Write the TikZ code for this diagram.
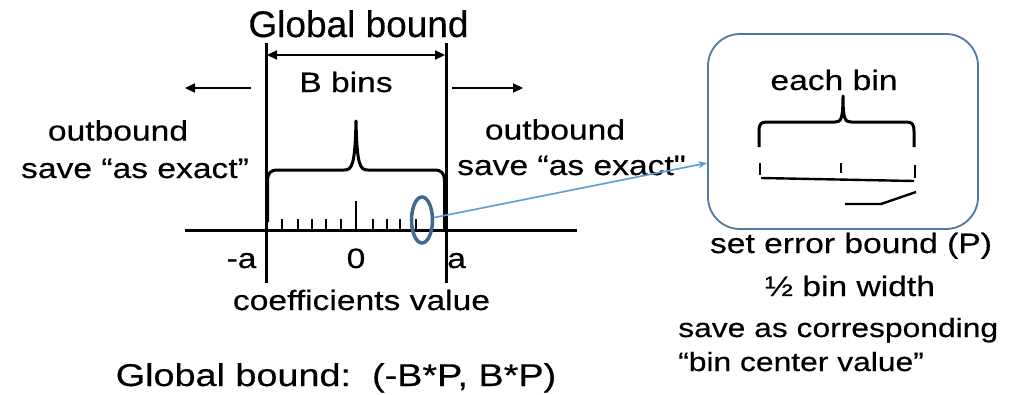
\documentclass[tikz,border=0pt]{standalone}
\usepackage{fontspec}
\newfontfamily\bodyfont{Liberation Sans}[FakeStretch=1.2,FakeBold=0.4]
\newfontfamily\titlefont{Liberation Sans}[FakeBold=0.4]
\usetikzlibrary{arrows.meta,shapes.geometric,calc}
\definecolor{boxblue}{RGB}{80,122,162}
\definecolor{ellblue}{RGB}{62,105,145}
\definecolor{lineblue}{RGB}{95,155,215}
\tikzset{
  txt/.style={inner sep=0pt, font=\bodyfont\fontsize{28}{34}\selectfont},
  txts/.style={inner sep=0pt, font=\bodyfont\fontsize{26.5}{32}\selectfont},
  txtl/.style={inner sep=0pt, font=\bodyfont\fontsize{31.5}{38}\selectfont},
  ttl/.style={inner sep=0pt, font=\titlefont\fontsize{37}{44}\selectfont},
  heavy/.style={line width=3pt},
  tickline/.style={line width=2.4pt},
  blk/.style={-{Triangle[length=10pt,width=9pt]}, line width=2.2pt},
}
\begin{document}
\begin{tikzpicture}[x=1pt,y=-1pt]
\useasboundingbox (0,0) rectangle (1014,394);
% texts
\node[ttl, anchor=base] (gb) at (358.5,37) {Global bound};
\node[txt, anchor=base] (bb) at (346,92) {B bins};
\node[txt, anchor=base] (ob1) at (118,140.5) {outbound};
\node[txt, anchor=base] (se1) at (135,178) {save “as exact”};
\node[txt, anchor=base] (ob2) at (555,139.5) {outbound};
\node[txt, anchor=base] (se2) at (571.5,175) {save “as exact"};
\node[txt, anchor=base] (ma) at (241.5,268) {-a};
\node[txt, anchor=base] (zero) at (356,268) {0};
\node[txt, anchor=base west] (pa) at (447,268) {a};
\node[txt, anchor=base] (cv) at (361.5,310) {coefficients value};
\node[txtl, anchor=base] (gbb) at (336,386) {Global bound:\ \ (-B*P, B*P)};
\node[txt, anchor=base] (seb) at (851,253) {set error bound (P)};
\node[txt, anchor=base] (half) at (850,296) {½ bin width};
\node[txts, anchor=base west] (sac) at (678,337) {save as corresponding};
\node[txts, anchor=base west] (bcv) at (678,371) {“bin center value”};
\node[txt, anchor=base] (eb) at (834,90) {each bin};
% vertical bounds
\coordinate (lt) at (266,43); \coordinate (lb) at (266,283);
\coordinate (rt) at (446,43); \coordinate (rb) at (446,283);
\draw[heavy] (lt) -- (lb);
\draw[heavy] (rt) -- (rb);
\coordinate (dl) at (267,55); \coordinate (dr) at (445,55);
\draw[{Triangle[length=10pt,width=9pt]}-{Triangle[length=10pt,width=9pt]}, line width=2.2pt] (dl) -- (dr);
% outward arrows
\coordinate (la1) at (251,88); \coordinate (la2) at (185,88);
\coordinate (ra1) at (452,88); \coordinate (ra2) at (523,88);
\draw[blk] (la1) -- (la2);
\draw[blk] (ra1) -- (ra2);
% axis
\coordinate (ax1) at (185,230); \coordinate (ax2) at (577,230);
\draw[heavy] (ax1) -- (ax2);
% ticks
\foreach \x in {282,298,312,326,341,373,387,400,416}
  \draw[tickline] (\x,230) -- (\x,219);
\draw[tickline] (356,230) -- (356,201);
% big brace
\draw[heavy, line join=round] (267.5,222) -- (267.5,182) .. controls (267.5,173) and (270,170) .. (278,170)
  -- (344,170) .. controls (352,170) and (355,166) .. (356,121)
  .. controls (357,166) and (360,170) .. (368,170)
  -- (434,170) .. controls (442,170) and (444.5,173) .. (444.5,182) -- (444.5,229);
% ellipse and link
\node[draw=ellblue, line width=3.5pt, ellipse, minimum width=21pt, minimum height=46pt, inner sep=0pt] (ell) at (422,220) {};
\node[draw=boxblue, line width=1.8pt, rounded corners=32pt, minimum width=270pt, minimum height=195pt, inner sep=0pt] (box) at (843,131.5) {};
\coordinate (tgt) at ($(box.north west)!0.66!(box.south west)$);
\draw[lineblue, line width=1.6pt, -{Stealth[length=9pt,width=7pt]}] (ell) -- (tgt);
% small brace in box
\draw[heavy, line join=round] (759,147) -- (759,131) .. controls (759,124) and (761,122) .. (767,122)
  -- (835,122) .. controls (841,122) and (843,119) .. (843,96)
  .. controls (843,119) and (845,122) .. (851,122)
  -- (906,122) .. controls (912,122) and (914,124) .. (914,131) -- (914,147);
\draw[tickline] (760,163) -- (760,175);
\draw[tickline] (841,163) -- (841,173);
\draw[tickline] (915,165) -- (915,178);
\draw[tickline] (761,178) -- (914,181);
\draw[tickline] (845,204) -- (881,204) -- (916,192);
\end{tikzpicture}
\end{document}
